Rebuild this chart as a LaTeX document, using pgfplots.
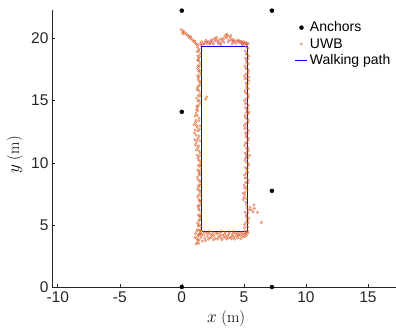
\documentclass[border=0pt]{standalone}
\usepackage{pgfplots}
\pgfplotsset{compat=1.18}
\usepackage{fontspec}
\newfontfamily\helv{Liberation Sans}
\definecolor{morange}{rgb}{0.85,0.325,0.098}
\definecolor{axgray}{rgb}{0.15,0.15,0.15}
\begin{document}
\begin{tikzpicture}
\begin{axis}[
  name=ax,
  scale only axis,
  width=344pt, height=277pt,
  xmin=-10.46, xmax=17.26, ymin=0, ymax=22.3,
  axis x line*=bottom, axis y line*=left,
  axis line style={axgray, line width=0.5pt},
  tick align=inside,
  major tick length=3pt,
  tick style={axgray, line width=0.5pt},
  xtick={-10,-5,0,5,10,15}, ytick={0,5,10,15,20},
  /pgf/number format/assume math mode=true,
  ticklabel style={font=\helv\fontsize{15.5}{17}\selectfont, text=axgray},
  xticklabel style={yshift=-1pt},
  xlabel={$x$ (m)}, ylabel={$y$ (m)},
  xlabel style={font=\fontsize{16}{18}\selectfont, at={(axis description cs:0.506,-0.1155)}, anchor=center},
  ylabel style={font=\fontsize{16}{18}\selectfont, at={(axis description cs:-0.1076,0.4765)}, anchor=center},
  clip=false,
  legend image code/.code={\draw[mark repeat=2,mark phase=2,#1] plot coordinates {(0pt,0pt) (6pt,0pt) (12pt,0pt)};},
  legend style={draw=none, fill=none, at={(axis description cs:0.703,0.969)}, anchor=north west,
    font=\helv\fontsize{14}{16}\selectfont, row sep=1pt, inner sep=1pt},
  legend cell align=left,
]
\addplot[only marks, mark=*, mark size=2pt, black] coordinates {
 (0,22.25) (7.26,22.25) (0,14.1) (7.26,7.74) (0,0) (7.26,0)};
\addlegendentry{Anchors}
\addplot[blue, line width=0.9pt, forget plot] coordinates {
 (1.61,4.5) (5.3,4.5) (5.3,19.38) (1.61,19.38) (1.61,4.5)};
\addplot[only marks, mark=*, mark size=1.25pt, morange, line width=0.35pt,
  mark options={draw=morange, fill=morange, draw opacity=0.7, fill opacity=0.3}] coordinates {
 (1.35,4.22) (1.45,4.31) (1.28,4.63) (1.50,4.55) (1.40,5.02) (1.32,4.93)
 (1.46,5.41) (1.38,5.33) (1.33,5.79) (1.52,5.86) (1.42,6.18) (1.36,6.27)
 (1.48,6.62) (1.30,6.55) (1.39,7.03) (1.44,6.94) (1.35,7.41) (1.55,7.36)
 (1.43,7.78) (1.29,7.85) (1.37,8.22) (1.49,8.16) (1.31,8.63) (1.45,8.57)
 (1.46,9.01) (1.38,9.08) (1.28,9.42) (1.41,9.35) (1.44,9.83) (1.34,9.76)
 (1.36,10.21) (1.50,10.15) (1.25,10.62) (1.43,10.55) (1.18,11.03) (1.40,10.96)
 (1.10,11.42) (1.35,11.36) (1.22,11.81) (1.45,11.77) (1.05,11.86) (1.15,12.22)
 (1.38,12.17) (1.08,12.63) (1.30,12.57) (1.42,12.68) (1.20,13.02) (0.98,13.07)
 (1.12,13.43) (1.36,13.37) (1.25,13.82) (1.05,13.76) (1.30,14.21) (1.18,14.26)
 (1.35,14.62) (1.22,14.57) (1.40,15.03) (1.28,14.96) (1.33,15.42) (1.45,15.36)
 (1.38,15.81) (1.26,15.87) (1.42,16.22) (1.31,16.16) (1.36,16.63) (1.47,16.56)
 (1.29,17.02) (1.40,16.95) (1.44,17.43) (1.35,17.37) (1.32,17.82) (1.41,17.76)
 (1.38,18.21) (1.27,18.26) (1.30,18.62) (1.43,18.55) (1.35,19.01) (1.25,18.95)
 (2.00,15.30) (1.92,15.12) (1.47,12.95) (1.52,9.60) (1.48,5.60)
 (1.52,4.85) (1.26,5.15) (1.44,5.72) (1.34,6.45) (1.51,6.85) (1.27,7.25)
 (1.46,7.62) (1.33,8.05) (1.50,8.45) (1.26,8.85) (1.42,9.22) (1.53,9.95)
 (1.30,10.40) (1.47,10.80) (1.28,11.20) (1.16,11.60) (1.32,12.00) (1.02,12.40)
 (1.24,12.85) (1.10,13.25) (1.40,13.60) (1.15,14.00) (1.26,14.45) (1.48,14.80)
 (1.20,15.20) (1.50,15.60) (1.24,16.00) (1.46,16.40) (1.30,16.80) (1.50,17.20)
 (1.26,17.60) (1.48,18.00) (1.33,18.40) (1.50,18.80) (1.40,19.15)
 (-0.05,20.72) (0.10,20.61) (0.20,20.52) (0.15,20.36) (0.35,20.41) (0.45,20.26)
 (0.55,20.21) (0.60,20.05) (0.75,20.01) (0.85,19.90) (0.95,19.76) (1.05,19.81)
 (1.10,19.61) (1.20,19.55) (1.30,19.45) (1.25,19.30) (0.05,20.45) (0.70,20.15)
 (1.50,19.60) (1.60,19.75) (1.70,19.55) (1.85,19.70) (1.95,19.85) (2.05,19.60)
 (2.15,19.75) (2.30,19.65) (2.40,19.90) (2.50,19.70) (2.60,20.00) (2.70,19.80)
 (2.80,20.10) (2.90,19.75) (3.00,19.90) (3.10,19.65) (3.25,19.80) (3.35,19.95)
 (3.45,20.15) (3.55,20.30) (3.60,20.05) (3.70,20.20) (3.80,19.90) (3.90,20.10)
 (4.00,19.85) (4.10,19.95) (4.20,19.70) (4.30,19.85) (4.45,19.75) (4.55,19.90)
 (4.65,19.65) (4.75,19.80) (4.85,19.60) (4.95,19.75) (5.05,19.55) (5.15,19.70)
 (5.25,19.50) (5.35,19.60) (2.25,19.55) (3.15,19.52) (4.05,19.58) (4.90,19.50)
 (1.55,19.45) (1.80,19.55) (2.00,19.72) (2.35,19.80) (2.55,19.55) (2.75,19.95)
 (2.95,19.60) (3.20,20.00) (3.40,19.70) (3.65,20.35) (3.75,19.75) (3.95,20.25)
 (4.15,19.80) (4.35,19.60) (4.60,19.80) (4.80,19.70) (5.00,19.65) (5.20,19.60)
 (5.25,4.42) (5.10,4.51) (5.30,4.83) (5.05,4.76) (5.15,5.21) (5.35,5.16)
 (5.20,5.62) (5.40,5.55) (5.10,6.03) (5.30,5.96) (5.50,6.42) (5.25,6.36)
 (5.60,6.21) (5.75,6.05) (5.85,6.32) (5.15,6.83) (5.00,7.21) (5.20,7.15)
 (4.95,7.03) (5.10,7.62) (4.95,7.55) (5.20,8.02) (5.05,7.96) (5.15,8.42)
 (5.30,8.35) (5.25,8.81) (5.10,8.76) (5.32,9.22) (5.18,9.15) (5.12,9.61)
 (5.28,9.55) (5.22,10.03) (5.35,9.96) (5.15,10.42) (5.30,10.36) (5.25,10.83)
 (5.10,10.76) (5.33,11.21) (5.20,11.15) (5.14,11.62) (5.27,11.55) (5.22,12.03)
 (5.36,11.95) (5.12,12.42) (5.29,12.36) (5.24,12.82) (5.08,12.76) (5.31,13.22)
 (5.17,13.15) (5.13,13.62) (5.27,13.56) (5.21,14.02) (5.35,13.96) (5.15,14.43)
 (5.30,14.36) (5.26,14.81) (5.12,14.76) (5.33,15.22) (5.19,15.15) (5.14,15.62)
 (5.28,15.56) (5.23,16.02) (5.36,15.96) (5.16,16.42) (5.31,16.36) (5.25,16.83)
 (5.11,16.76) (5.34,17.22) (5.20,17.15) (5.15,17.62) (5.29,17.55) (5.24,18.02)
 (5.37,17.96) (5.13,18.42) (5.30,18.36) (5.26,18.82) (5.18,18.76) (5.32,19.22)
 (5.45,10.60) (5.42,14.10) (5.40,16.90)
 (5.05,5.00) (5.28,5.40) (5.18,5.80) (5.38,6.20) (5.22,6.60) (5.08,7.40)
 (5.28,7.80) (5.02,8.20) (5.36,8.60) (5.05,9.00) (5.25,9.40) (5.38,9.80)
 (5.08,10.20) (5.20,10.60) (5.38,11.00) (5.06,11.40) (5.32,11.80) (5.18,12.20)
 (5.38,12.60) (5.04,13.00) (5.36,13.40) (5.09,13.80) (5.24,14.20) (5.38,14.60)
 (5.06,15.00) (5.36,15.40) (5.09,15.80) (5.24,16.20) (5.40,16.60) (5.05,17.00)
 (5.38,17.40) (5.08,17.80) (5.20,18.20) (5.38,18.60) (5.10,19.00) (5.22,19.35)
 (1.10,4.30) (1.20,3.90) (1.30,4.10) (1.25,3.60) (1.40,3.80) (1.50,4.40)
 (1.55,4.00) (1.65,3.70) (1.75,4.20) (1.85,3.95) (1.95,4.35) (2.05,4.10)
 (2.15,3.85) (2.30,4.25) (2.40,4.00) (2.50,4.40) (2.60,4.15) (2.70,3.90)
 (2.85,4.30) (2.95,4.05) (3.05,4.35) (3.15,3.95) (3.30,4.20) (3.40,4.00)
 (3.50,4.40) (3.60,3.85) (3.70,4.15) (3.80,4.30) (3.90,4.00) (4.00,3.90)
 (4.10,4.25) (4.20,4.05) (4.30,4.35) (4.40,4.10) (4.50,3.95) (4.60,4.30)
 (4.70,4.15) (4.80,4.40) (4.90,4.05) (5.00,4.25) (5.10,4.40) (5.20,4.15)
 (5.30,4.50) (1.15,3.45) (1.35,3.50) (1.05,4.00) (1.45,4.55) (2.20,4.45)
 (3.20,4.48) (4.15,4.46) (6.40,5.20) (5.80,6.60) (6.10,6.00)
 (1.60,4.25) (1.80,4.45) (1.90,3.75) (2.10,4.30) (2.25,3.95) (2.45,4.20)
 (2.55,3.80) (2.75,4.35) (2.90,3.85) (3.10,4.15) (3.25,3.80) (3.45,4.25)
 (3.55,4.05) (3.75,3.95) (3.85,4.45) (4.05,4.10) (4.25,3.85) (4.45,4.30)
 (4.55,4.15) (4.75,3.90) (4.85,4.25) (5.05,4.05) (5.15,4.30) (5.35,4.35)
 (1.30,3.75) (1.45,4.20) (1.20,4.50)
};
\addlegendentry{UWB}
\addlegendimage{blue, line width=0.9pt}
\addlegendentry{Walking path}
\end{axis}
\pgfresetboundingbox
\path ([xshift=-52pt,yshift=-41pt]ax.south west) rectangle ([yshift=10pt]ax.north east);
\end{tikzpicture}
\end{document}
